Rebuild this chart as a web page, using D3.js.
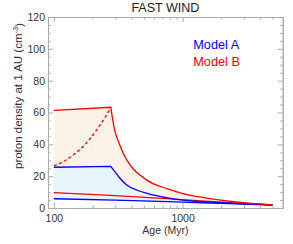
<!DOCTYPE html>
<html>
<head>
<meta charset="utf-8">
<script src="https://cdn.jsdelivr.net/npm/d3@7"></script>
<style>
  body { margin: 0; background: #fff; }
  text { font-family: "Liberation Sans", Arial, sans-serif; }
</style>
</head>
<body>
<div id="chart"></div>
<script>
// data (age in Myr, density in cm^-3)
var bUpperAge = [100, 277, 282, 290, 300, 320, 346, 380, 414, 470, 526, 600, 752, 1000, 1500, 2130, 3000, 4000, 5000];
var bUpperVal = [61.3, 63.3, 59, 53, 47.5, 41, 34.4, 28.5, 24.5, 20.5, 17.5, 15.0, 12.2, 9.1, 6.4, 4.6, 3.3, 2.5, 1.9];
var bDashAge = [100, 126, 150, 175, 191, 228, 250, 277];
var bDashVal = [26.5, 30.5, 35, 40, 43.6, 52, 57, 63.3];
var bLowerAge = [100, 300, 700, 1000, 2000, 3000, 5000];
var bLowerVal = [9.6, 7.8, 6.0, 5.2, 3.7, 2.9, 1.9];
var aUpperAge = [100, 277, 285, 298, 326, 368, 440, 592, 847, 1000, 2000, 3000, 5000];
var aUpperVal = [25.6, 26.2, 24.8, 22.8, 18.7, 14.5, 11.3, 8.2, 5.7, 5.0, 3.3, 2.6, 1.9];
var aLowerAge = [100, 300, 1000, 2000, 5000];
var aLowerVal = [5.8, 5.0, 3.7, 2.9, 1.9];
var kinkAge = 277;

var xMajor = [100, 1000];
var xMinor = [200, 300, 400, 500, 600, 700, 800, 900, 2000, 3000, 4000, 5000];
var yMajor = [0, 20, 40, 60, 80, 100, 120];
var yMinor = [5, 10, 15, 25, 30, 35, 45, 50, 55, 65, 70, 75, 85, 90, 95, 105, 110, 115];

var W = 293, H = 244;
var box = {left: 48, right: 282.7, top: 17, bottom: 208};

var svg = d3.select("#chart")
    .append("svg")
    .attr("width", W)
    .attr("height", H);

var x = d3.scaleLog()
    .domain([90, 6000])
    .range([box.left, box.right]);
var y = d3.scaleLinear()
    .domain([0, 120])
    .range([box.bottom, box.top]);

function pts(ages, vals) {
    return ages.map(function(a, i) { return [a, vals[i]]; });
}
var straight = d3.line()
    .x(function(d) { return x(d[0]); })
    .y(function(d) { return y(d[1]); });
var smooth = d3.line()
    .curve(d3.curveMonotoneX)
    .x(function(d) { return x(d[0]); })
    .y(function(d) { return y(d[1]); });

// straight up to the kink, smooth decay after it
function pathOf(data) {
    var k = data.findIndex(function(d) { return d[0] === kinkAge; });
    if (k <= 0 || k === data.length - 1) return smooth(data);
    return straight(data.slice(0, k + 1)) + smooth(data.slice(k)).replace(/^M/, "L");
}

// shaded bands
function band(upper, lower, color) {
    var back = smooth(lower.slice().reverse()).replace(/^M/, "L");
    svg.append("path")
        .attr("d", pathOf(upper) + back + "Z")
        .attr("fill", color)
        .attr("stroke", "none");
}
band(pts(bUpperAge, bUpperVal), pts(bLowerAge, bLowerVal), "#fdf2e8");
band(pts(aUpperAge, aUpperVal), pts(aLowerAge, aLowerVal), "#e8f4fc");

// curves
function curve(data, color, dash) {
    svg.append("path")
        .attr("fill", "none")
        .attr("stroke", color)
        .attr("stroke-width", 1.3)
        .attr("stroke-dasharray", dash || null)
        .attr("d", pathOf(data));
}
curve(pts(aLowerAge, aLowerVal), "#0000ff");
curve(pts(bLowerAge, bLowerVal), "#ff0000");
curve(pts(aUpperAge, aUpperVal), "#0000ff");
curve(pts(bDashAge, bDashVal), "#ff0000", "3,2.5");
curve(pts(bUpperAge, bUpperVal), "#ff0000");

// axes, ticks pointing inward on all four sides
var axisColor = "#aaaaaa";
function styleAxis(g) {
    g.selectAll("path").attr("stroke", axisColor);
    g.selectAll("line").attr("stroke", axisColor);
    g.selectAll("text")
        .attr("fill", "#333")
        .style("font-size", "10.5px")
        .style("font-family", "Liberation Sans, Arial, sans-serif");
}
svg.append("g")
    .attr("transform", "translate(0," + box.bottom + ")")
    .call(d3.axisBottom(x).tickValues(xMajor).tickFormat(d3.format("d"))
        .tickSizeInner(-5).tickSizeOuter(0).tickPadding(7))
    .call(styleAxis);
svg.append("g")
    .attr("transform", "translate(0," + box.bottom + ")")
    .call(d3.axisBottom(x).tickValues(xMinor).tickFormat("")
        .tickSizeInner(-2.5).tickSizeOuter(0))
    .call(styleAxis);
svg.append("g")
    .attr("transform", "translate(0," + box.top + ")")
    .call(d3.axisTop(x).tickValues(xMajor).tickFormat("")
        .tickSizeInner(-5).tickSizeOuter(0))
    .call(styleAxis);
svg.append("g")
    .attr("transform", "translate(0," + box.top + ")")
    .call(d3.axisTop(x).tickValues(xMinor).tickFormat("")
        .tickSizeInner(-2.5).tickSizeOuter(0))
    .call(styleAxis);
svg.append("g")
    .attr("transform", "translate(" + box.left + ",0)")
    .call(d3.axisLeft(y).tickValues(yMajor)
        .tickSizeInner(-5).tickSizeOuter(0).tickPadding(3))
    .call(styleAxis);
svg.append("g")
    .attr("transform", "translate(" + box.left + ",0)")
    .call(d3.axisLeft(y).tickValues(yMinor).tickFormat("")
        .tickSizeInner(-2.5).tickSizeOuter(0))
    .call(styleAxis);
svg.append("g")
    .attr("transform", "translate(" + box.right + ",0)")
    .call(d3.axisRight(y).tickValues(yMajor).tickFormat("")
        .tickSizeInner(-5).tickSizeOuter(0))
    .call(styleAxis);
svg.append("g")
    .attr("transform", "translate(" + box.right + ",0)")
    .call(d3.axisRight(y).tickValues(yMinor).tickFormat("")
        .tickSizeInner(-2.5).tickSizeOuter(0))
    .call(styleAxis);

// title
svg.append("text")
    .attr("x", (box.left + box.right) / 2)
    .attr("y", 11.7)
    .attr("text-anchor", "middle")
    .style("font-size", "12.5px")
    .attr("fill", "#222")
    .text("FAST WIND");

// x label
svg.append("text")
    .attr("x", (box.left + box.right) / 2)
    .attr("y", 233.5)
    .attr("text-anchor", "middle")
    .style("font-size", "10.5px")
    .attr("fill", "#333")
    .text("Age (Myr)");

// y label
var yLab = svg.append("text")
    .attr("transform", "translate(21.5,96) rotate(-90)")
    .attr("text-anchor", "middle")
    .style("font-size", "11.5px")
    .attr("fill", "#333");
yLab.append("tspan").text("proton density at 1 AU (cm");
yLab.append("tspan").attr("dy", "-0.45em").style("font-size", "7.5px").text("-3");
yLab.append("tspan").attr("dy", "0.45em").text(")");

// legend
svg.append("text")
    .attr("x", 193.3).attr("y", 49)
    .style("font-size", "12.7px")
    .attr("fill", "#0000ff")
    .text("Model A");
svg.append("text")
    .attr("x", 193.3).attr("y", 66)
    .style("font-size", "12.7px")
    .attr("fill", "#ff0000")
    .text("Model B");
</script>
</body>
</html>
